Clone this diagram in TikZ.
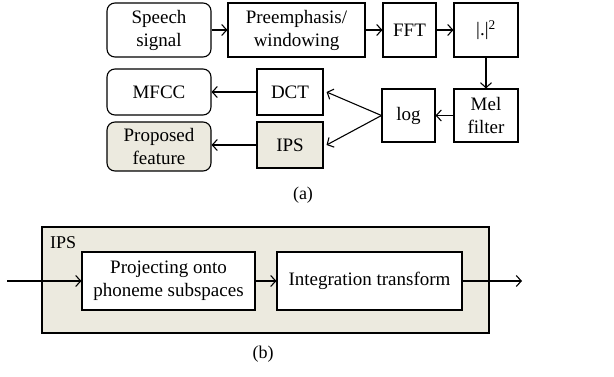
\documentclass[tikz,border=0pt]{standalone}
\usepackage{fontspec}
\setmainfont{Liberation Serif}
\usetikzlibrary{arrows.meta}
\definecolor{beige}{RGB}{236,234,223}
\tikzset{
  blk/.style={draw=black, line width=1.1pt, align=center, inner sep=1pt, font=\fontsize{19}{23}\selectfont},
  rbox/.style={blk, rounded corners=8pt},
  conn/.style={line width=1.1pt, -{Straight Barb[length=5pt,width=11pt,line width=1.1pt]}},
  lbl/.style={font=\fontsize{18}{22}\selectfont}
}
\begin{document}
\begin{tikzpicture}[x=1pt,y=-1pt]
\useasboundingbox (0,0) rectangle (614,377);
% (a)
\node[rbox, minimum width=104pt, minimum height=54pt] (speech) at (159,30) {Speech\\signal};
\node[blk, minimum width=137pt, minimum height=54pt] (pre) at (296.5,30) {Preemphasis/\\windowing};
\node[blk, minimum width=53pt, minimum height=54pt] (fft) at (409.5,30) {FFT};
\node[blk, minimum width=64pt, minimum height=54pt] (sq) at (486,30) {|.|\textsuperscript{2}};
\node[blk, minimum width=64pt, minimum height=53pt] (mel) at (486,115.5) {Mel\\filter};
\node[blk, minimum width=53pt, minimum height=53pt] (log) at (408.5,115.5) {log};
\node[blk, minimum width=66pt, minimum height=46pt] (dct) at (290,92) {DCT};
\node[blk, fill=beige, minimum width=66pt, minimum height=46pt] (ips) at (290,145) {IPS};
\node[rbox, minimum width=104pt, minimum height=46pt] (mfcc) at (159,92) {MFCC};
\node[rbox, fill=beige, minimum width=104pt, minimum height=49pt] (prop) at (159,146.5) {Proposed\\feature};
\draw[conn] (speech) -- (pre);
\draw[conn] (pre) -- (fft);
\draw[conn] (fft) -- (sq);
\draw[conn] (sq) -- (mel);
\draw[conn] (mel) -- (log);
\draw[conn] (log.west) -- ([xshift=3pt]dct.east);
\draw[conn] (log.west) -- ([xshift=3pt]ips.east);
\draw[conn] (dct) -- (mfcc);
\draw[conn] (ips) -- (prop.east |- ips);
\node[lbl] (la) at (303,195) {(a)};
% (b)
\node[draw=black, line width=1.1pt, fill=beige, minimum width=447pt, minimum height=106pt, inner sep=0pt] (big) at (265.5,280) {};
\node[font=\fontsize{18}{22}\selectfont, anchor=north west, inner sep=0pt] (ipsl) at (50,236) {IPS};
\node[blk, fill=white, minimum width=173pt, minimum height=58pt] (proj) at (168.5,281) {Projecting onto\\phoneme subspaces};
\node[blk, fill=white, minimum width=185pt, minimum height=58pt] (integ) at (369.5,281) {Integration transform};
\coordinate (in) at (7,281);
\coordinate (out) at (522,281);
\draw[conn] (in) -- (proj);
\draw[conn] (proj) -- (integ);
\draw[conn] (integ) -- (out);
\node[lbl] (lb) at (263,354) {(b)};
\end{tikzpicture}
\end{document}
